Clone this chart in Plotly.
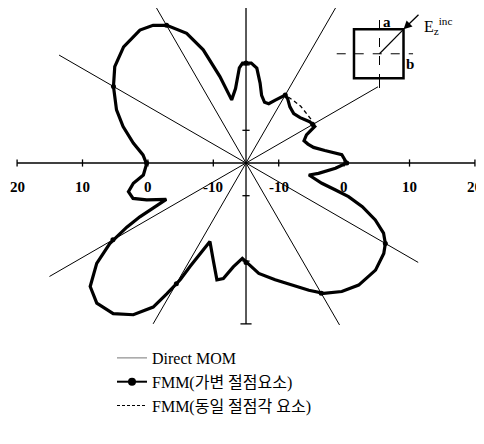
import numpy as np
import plotly.graph_objects as go

# bistatic RCS pattern, angle in degrees, level in dB (radial axis starts at -15 dB)
theta = [0, 5, 9, 13, 17, 21, 25, 28, 33, 40, 46, 52, 57, 60, 65, 69, 73, 77, 80, 83.5,
         87, 92, 94, 98, 102.8, 106.8, 110.7, 114.6, 119.9, 124, 128.6, 136.5, 143.7, 150,
         157.7, 163.5, 170, 175.5, 180.5, 186.7, 190.2, 193.7, 197.4, 200.4, 204.5, 206.9,
         208.3, 210.6, 213.9, 218.4, 223.2, 228.6, 233.4, 237.2, 238.8, 240.6, 241.6, 243,
         245.3, 251.4, 256, 258.9, 263, 267.8, 276.6, 284, 290.7, 296.3, 300.8, 306.7, 312.7,
         320.4, 326.7, 330, 333, 336.2, 339.4, 341.8, 343.2, 345, 349.2, 351.9, 356.6, 360]
mom_db = [0.4, -0.3, -2.8, -4.4, -5.1, -5.5, -4.8, -3.1, -3.4, -4.2, -4.5, -4.1, -3.3, -3.0,
          -4.4, -5.3, -5.3, -4.4, -2.6, -0.4, 0.3, 0.3, -0.4, -3.5, -5.1, -1.2, 3.5, 6.8, 9.3,
          10.4, 11.0, 10.8, 9.9, 8.4, 6.4, 4.6, 2.5, 0.8, 0.2, 0.8, 2.5, 3.5, 3.1, 1.2, -1.6,
          3.2, 5.7, 9.2, 12.5, 15.4, 16.3, 15.7, 13.9, 11.2, 8.4, 5.5, 3.0, 0.5, -1.8, 0.7,
          3.4, 3.0, 1.0, -0.4, 2.0, 3.4, 4.9, 6.7, 8.2, 9.5, 10.4, 10.7, 10.2, 9.6, 8.6, 6.6,
          4.0, 1.5, -0.7, -3.0, -5.2, -3.8, -1.3, 0.4]
fmm_var_db = list(mom_db)  # coincides with Direct MOM in the figure
fmm_eq_db = [0.4, -0.3, -2.8, -4.4, -5.1, -5.5, -4.8, -3.1, -3.0, -3.0, -2.95, -3.0, -3.05, -3.0,
             -4.4, -5.3, -5.3, -4.4, -2.6, -0.4, 0.3, 0.3, -0.4, -3.5, -5.1, -1.2, 3.5, 6.8, 9.3,
             10.4, 11.0, 10.8, 9.9, 8.4, 6.4, 4.6, 2.5, 0.8, 0.2, 0.8, 2.5, 3.5, 3.1, 1.2, -1.6,
             3.2, 5.7, 9.2, 12.5, 15.4, 16.3, 15.7, 13.9, 11.2, 8.4, 5.5, 3.0, 0.5, -1.8, 0.7,
             3.4, 3.0, 1.0, -0.4, 2.0, 3.4, 4.9, 6.7, 8.2, 9.5, 10.4, 10.7, 10.2, 9.6, 8.6, 6.6,
             4.0, 1.5, -0.7, -3.0, -5.2, -3.8, -1.3, 0.4]

# FMM markers (every 30 deg)
mark_theta = [0, 30, 60, 90, 120, 150, 180, 210, 240, 270, 300, 330]
mark_db = [0.4, -3.2, -3.0, 0.3, 9.3, 8.4, 0.2, 8.5, 6.3, 0.2, 8.0, 9.6]

tick_labels = ["20", "10", "0", "-10", "-10", "0", "10", "20"]
tick_db = [20, 10, 0, -10, -10, 0, 10, 20]
tick_side = [-1, -1, -1, -1, 1, 1, 1, 1]

R0 = 15  # dB offset at the centre


def to_xy(th, db):
    r = np.array(db) + R0
    t = np.radians(th)
    return r * np.cos(t), r * np.sin(t)


FONT = "Liberation Serif, Times New Roman, Noto Sans CJK KR, serif"

fig = go.Figure()

# radial guide lines
ray_ang = [30, 60, 120, 150, 210, 240, 300, 330]
ray_len = [23.3, 27.7, 27.7, 33.0, 34.7, 28.4, 28.6, 30.4]
shapes = []
for a, L in zip(ray_ang, ray_len):
    shapes.append(dict(type="line", x0=0, y0=0, x1=L * np.cos(np.radians(a)),
                       y1=L * np.sin(np.radians(a)), line=dict(color="black", width=1)))

# axes
shapes.append(dict(type="line", x0=-35, x1=35, y0=0, y1=0, line=dict(color="black", width=1.3)))
shapes.append(dict(type="line", x0=0, x1=0, y0=-24.6, y1=24.0, line=dict(color="black", width=1.3)))
for d, s in zip(tick_db, tick_side):
    x = s * (d + R0)
    shapes.append(dict(type="line", x0=x, x1=x, y0=-0.55, y1=0.55, line=dict(color="black", width=1.3)))
for y in [-15, -5, 5, 15]:
    shapes.append(dict(type="line", x0=-0.55, x1=0.55, y0=y, y1=y, line=dict(color="black", width=1.3)))
shapes.append(dict(type="line", x0=-0.85, x1=0.85, y0=-24.6, y1=-24.6, line=dict(color="black", width=1.3)))

# inset: square cylinder
shapes += [
    dict(type="line", x0=20.41, x1=20.41, y0=11.47, y1=12.95, line=dict(color="black", width=1)),
    dict(type="rect", x0=16.51, x1=24.08, y0=12.95, y1=20.44, line=dict(color="black", width=2.5)),
    dict(type="line", x0=20.41, x1=20.41, y0=12.23, y1=22.63, line=dict(color="black", width=1, dash="dash")),
    dict(type="line", x0=13.87, x1=25.54, y0=16.70, y1=16.70, line=dict(color="black", width=1, dash="dash")),
    dict(type="line", x0=20.41, x1=24.08, y0=16.70, y1=20.44, line=dict(color="black", width=1.2)),
]

annotations = []
for lab, d, s in zip(tick_labels, tick_db, tick_side):
    annotations.append(dict(x=s * (d + R0), y=-3.6, text="<b>" + lab + "</b>", showarrow=False,
                            font=dict(family=FONT, size=15, color="black"), xanchor="center", yanchor="middle"))
annotations += [
    dict(x=24.08, y=20.44, ax=26.6, ay=22.9, xref="x", yref="y", axref="x", ayref="y", text="",
         showarrow=True, arrowhead=2, arrowsize=1.3, arrowwidth=1.3, arrowcolor="black"),
    dict(x=21.5, y=21.6, text="<b>a</b>", showarrow=False, font=dict(family=FONT, size=15, color="black")),
    dict(x=25.0, y=15.2, text="<b>b</b>", showarrow=False, font=dict(family=FONT, size=15, color="black")),
    dict(x=26.9, y=21.0, text="E<sub>z</sub><sup>inc</sup>", showarrow=False, xanchor="left",
         font=dict(family=FONT, size=16, color="black")),
]

x, y = to_xy(theta, mom_db)
fig.add_trace(go.Scatter(x=x, y=y, mode="lines", line=dict(color="#444", width=1), showlegend=False))
x, y = to_xy(theta, fmm_eq_db)
fig.add_trace(go.Scatter(x=x, y=y, mode="lines", line=dict(color="black", width=1.3, dash="4px,3px"),
                         showlegend=False))
x, y = to_xy(theta, fmm_var_db)
fig.add_trace(go.Scatter(x=x, y=y, mode="lines", line=dict(color="black", width=3.2), showlegend=False))
x, y = to_xy(mark_theta, mark_db)
fig.add_trace(go.Scatter(x=x, y=y, mode="markers", marker=dict(color="black", size=5), showlegend=False))

# legend entries
fig.add_trace(go.Scatter(x=[None], y=[None], mode="lines", name="Direct MOM",
                         line=dict(color="#777", width=1)))
fig.add_trace(go.Scatter(x=[None], y=[None], mode="lines+markers", name="FMM(가변 절점요소)",
                         line=dict(color="black", width=2), marker=dict(size=8, color="black")))
fig.add_trace(go.Scatter(x=[None], y=[None], mode="lines", name="FMM(동일 절점각 요소)",
                         line=dict(color="black", width=1, dash="3px,2px")))

# page body has an 8px margin: centre of the pattern sits at figure px (238, 155)
fig.update_layout(
    width=484, height=444,
    margin=dict(l=0, r=0, t=0, b=0),
    paper_bgcolor="white", plot_bgcolor="white",
    xaxis=dict(range=[-36.39, 37.61], visible=False),
    yaxis=dict(range=[-44.19, 23.70], visible=False),
    shapes=shapes, annotations=annotations,
    showlegend=True,
    legend=dict(x=104 / 484, y=1 - 333 / 444, xanchor="left", yanchor="top",
                font=dict(family=FONT, size=16, color="black"),
                itemwidth=30, bgcolor="rgba(0,0,0,0)"),
)

fig.write_html("out.html")
